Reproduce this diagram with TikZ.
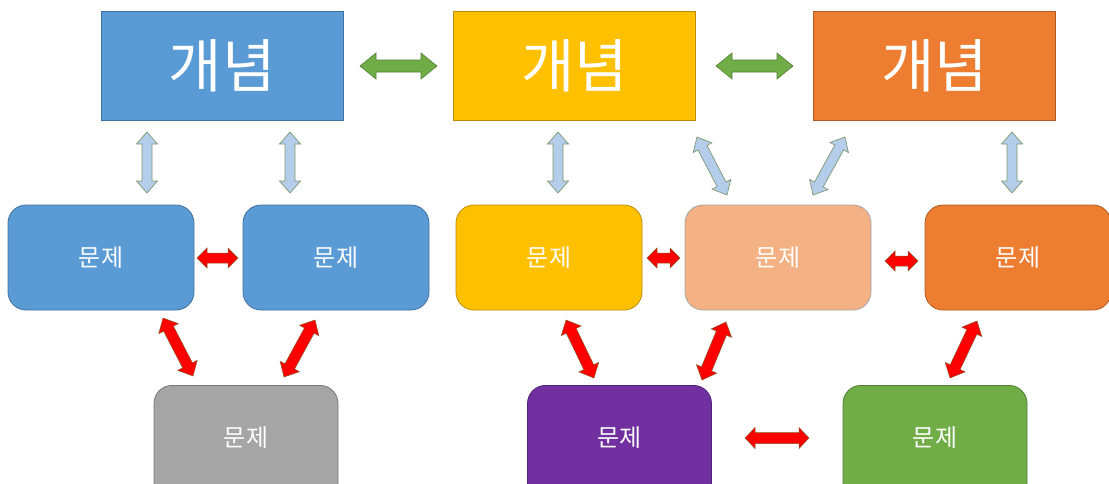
\documentclass[tikz,border=0pt]{standalone}
\usepackage{fontspec}
\newfontfamily\kr{Noto Sans CJK KR}
\usetikzlibrary{calc}
\definecolor{cblue}{HTML}{5B9BD5}\definecolor{cblueB}{HTML}{41719C}
\definecolor{cyel}{HTML}{FFC000}\definecolor{cyelB}{HTML}{BC8C00}
\definecolor{cora}{HTML}{ED7D31}\definecolor{coraB}{HTML}{AE5A21}
\definecolor{cpeach}{HTML}{F4B183}\definecolor{cpeachB}{HTML}{A5A5A5}
\definecolor{cgray}{HTML}{A5A5A5}\definecolor{cgrayB}{HTML}{787878}
\definecolor{cpur}{HTML}{7030A0}\definecolor{cpurB}{HTML}{51247A}
\definecolor{cgrn}{HTML}{70AD47}\definecolor{cgrnB}{HTML}{507E32}
\definecolor{cltb}{HTML}{B4CDEA}\definecolor{cltbB}{HTML}{7F9870}
\definecolor{credB}{HTML}{8A5A2A}
\tikzset{
  concept/.style={rectangle, minimum width=242pt, minimum height=109pt, line width=0.8pt, text=white, font=\kr\fontsize{58}{64}\selectfont},
  prob/.style={rectangle, rounded corners=18pt, minimum width=186pt, minimum height=105pt, line width=0.8pt, text=white, font=\kr\fontsize{24}{28}\selectfont},
  lowbox/.style={rectangle, rounded corners=18pt, minimum width=184pt, minimum height=140pt, anchor=north, line width=0.8pt},
  probtxt/.style={text=white, font=\kr\fontsize{24}{28}\selectfont},
  greenarr/.style={fill=cgrn, draw=cgrnB, line width=0.6pt, line join=miter},
  bluearr/.style={fill=cltb, draw=cltbB, line width=0.7pt, line join=miter},
  redarr/.style={fill=red, draw=credB, line width=0.5pt, line join=miter}
}
% #1 style, #2 A, #3 B, #4 shaft half width, #5 head half width, #6 head length
\newcommand\dblarr[6]{%
  \path[#1] (#2) -- ($(#2)!#6!(#3)!#5!90:(#3)$) -- ($(#2)!#6!(#3)!#4!90:(#3)$)
    -- ($(#3)!#6!(#2)!#4!-90:(#2)$) -- ($(#3)!#6!(#2)!#5!-90:(#2)$) -- (#3)
    -- ($(#3)!#6!(#2)!#5!90:(#2)$) -- ($(#3)!#6!(#2)!#4!90:(#2)$)
    -- ($(#2)!#6!(#3)!#4!-90:(#3)$) -- ($(#2)!#6!(#3)!#5!-90:(#3)$) -- cycle;}
\begin{document}
\begin{tikzpicture}[x=1pt,y=-1pt]
\useasboundingbox (0,0) rectangle (1109,483);
\clip (0,0) rectangle (1109,483);
% concepts
\node[concept, fill=cblue, draw=cblueB] (c1) at (222,65.5) {개념};
\node[concept, fill=cyel, draw=cyelB] (c2) at (574.5,65.5) {개념};
\node[concept, fill=cora, draw=coraB] (c3) at (934.5,65.5) {개념};
% problems middle row
\node[prob, fill=cblue, draw=cblueB] (p1) at (101,257.5) {문제};
\node[prob, fill=cblue, draw=cblueB] (p2) at (336,257.5) {문제};
\node[prob, fill=cyel, draw=cyelB] (p3) at (549,257.5) {문제};
\node[prob, fill=cpeach, draw=cpeachB] (p4) at (778,257.5) {문제};
\node[prob, fill=cora, draw=coraB] (p5) at (1018,257.5) {문제};
% bottom row
\node[lowbox, fill=cgray, draw=cgrayB] (q1) at (246,385) {};
\node[lowbox, fill=cpur, draw=cpurB] (q2) at (619.5,385) {};
\node[lowbox, fill=cgrn, draw=cgrnB] (q3) at (935,385) {};
\node[probtxt] (q1t) at (246,438) {문제};
\node[probtxt] (q2t) at (619.5,438) {문제};
\node[probtxt] (q3t) at (935,438) {문제};
% arrow end points
\coordinate (g1a) at (360,66); \coordinate (g1b) at (437,66);
\coordinate (g2a) at (716,66); \coordinate (g2b) at (793,66);
\coordinate (b1a) at (147,132); \coordinate (b1b) at (147,193);
\coordinate (b2a) at (290,132); \coordinate (b2b) at (290,193);
\coordinate (b3a) at (558,132); \coordinate (b3b) at (558,193);
\coordinate (b4a) at (697,137); \coordinate (b4b) at (727,195);
\coordinate (b5a) at (845,137); \coordinate (b5b) at (813,195);
\coordinate (b6a) at (1012,132); \coordinate (b6b) at (1012,193);
\coordinate (r1a) at (197,258); \coordinate (r1b) at (238,258);
\coordinate (r2a) at (647,258); \coordinate (r2b) at (680,258);
\coordinate (r3a) at (885,261); \coordinate (r3b) at (918,261);
\coordinate (r4a) at (745,438); \coordinate (r4b) at (809,438);
\coordinate (r5a) at (163,318); \coordinate (r5b) at (193,376);
\coordinate (r6a) at (315,320); \coordinate (r6b) at (284,377);
\coordinate (r7a) at (566,320); \coordinate (r7b) at (594,378);
\coordinate (r8a) at (726,322); \coordinate (r8b) at (702,380);
\coordinate (r9a) at (977,321); \coordinate (r9b) at (950,378);
% arrows
\dblarr{greenarr}{g1a}{g1b}{6pt}{13pt}{16pt}
\dblarr{greenarr}{g2a}{g2b}{6pt}{13pt}{16pt}
\dblarr{bluearr}{b1a}{b1b}{5pt}{10.5pt}{12pt}
\dblarr{bluearr}{b2a}{b2b}{5pt}{10.5pt}{12pt}
\dblarr{bluearr}{b3a}{b3b}{5pt}{10.5pt}{12pt}
\dblarr{bluearr}{b4a}{b4b}{5pt}{10.5pt}{12pt}
\dblarr{bluearr}{b5a}{b5b}{5pt}{10.5pt}{12pt}
\dblarr{bluearr}{b6a}{b6b}{5pt}{10.5pt}{12pt}
\dblarr{redarr}{r1a}{r1b}{5pt}{10pt}{10pt}
\dblarr{redarr}{r2a}{r2b}{5pt}{10pt}{10pt}
\dblarr{redarr}{r3a}{r3b}{5pt}{10pt}{10pt}
\dblarr{redarr}{r4a}{r4b}{5.5pt}{10.5pt}{10pt}
\dblarr{redarr}{r5a}{r5b}{5.5pt}{11pt}{12pt}
\dblarr{redarr}{r6a}{r6b}{5.5pt}{11pt}{12pt}
\dblarr{redarr}{r7a}{r7b}{5.5pt}{11pt}{12pt}
\dblarr{redarr}{r8a}{r8b}{5.5pt}{11pt}{12pt}
\dblarr{redarr}{r9a}{r9b}{5.5pt}{11pt}{12pt}
\end{tikzpicture}
\end{document}
